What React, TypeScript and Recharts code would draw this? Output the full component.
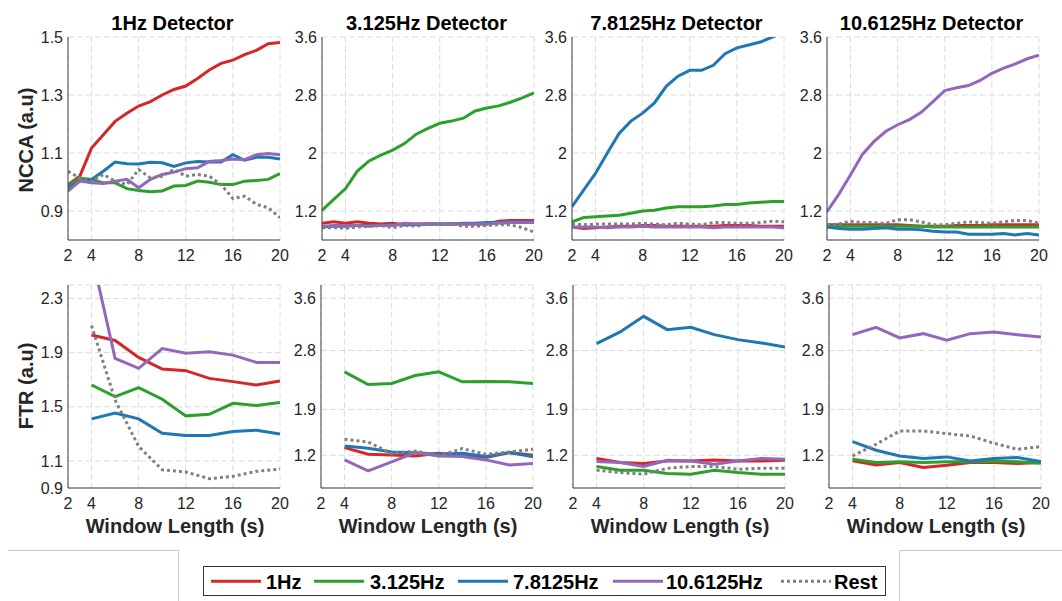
import React from 'react';
import { LineChart, Line, XAxis, YAxis, CartesianGrid } from 'recharts';

// ---------- data ----------
const xTop = [2, 3, 4, 5, 6, 7, 8, 9, 10, 11, 12, 13, 14, 15, 16, 17, 18, 19, 20];
const xBottom = [4, 6, 8, 10, 12, 14, 16, 18, 20];
const xTicks = [2, 4, 8, 12, 16, 20];

const detectorTitles = ['1Hz Detector', '3.125Hz Detector', '7.8125Hz Detector', '10.6125Hz Detector'];
const seriesNames = ['1Hz', '3.125Hz', '7.8125Hz', '10.6125Hz', 'Rest'];

// NCCA (top row), x = 2..20
const n1_1Hz = [0.99, 1.02, 1.117, 1.163, 1.209, 1.237, 1.262, 1.277, 1.3, 1.319, 1.331, 1.357, 1.386, 1.409, 1.42, 1.439, 1.454, 1.477, 1.481];
const n1_3Hz = [0.986, 1.014, 1.009, 0.997, 0.997, 0.977, 0.971, 0.966, 0.969, 0.986, 0.988, 1.003, 0.999, 0.991, 0.991, 1.003, 1.005, 1.009, 1.029];
const n1_7Hz = [0.98, 1.003, 1.009, 1.037, 1.069, 1.063, 1.062, 1.068, 1.066, 1.054, 1.066, 1.071, 1.069, 1.069, 1.094, 1.075, 1.085, 1.085, 1.079];
const n1_10Hz = [0.969, 1.003, 0.997, 0.995, 1.003, 1.009, 0.98, 1.009, 1.026, 1.034, 1.046, 1.049, 1.071, 1.074, 1.079, 1.077, 1.094, 1.098, 1.094];
const n1_rest = [1.037, 1.014, 1.003, 1.026, 1.003, 0.991, 1.043, 1.014, 1.02, 1.043, 1.02, 1.026, 1.02, 0.991, 0.943, 0.951, 0.923, 0.911, 0.877];

const n2_1Hz = [1.03, 1.05, 1.03, 1.05, 1.03, 1.02, 1.03, 1.01, 1.02, 1.02, 1.02, 1.02, 1.02, 1.02, 1.02, 1.06, 1.07, 1.07, 1.07];
const n2_3Hz = [1.21, 1.36, 1.51, 1.75, 1.89, 1.97, 2.04, 2.13, 2.26, 2.34, 2.41, 2.44, 2.48, 2.58, 2.62, 2.65, 2.7, 2.76, 2.83];
const n2_7Hz = [0.98, 0.99, 0.99, 1.0, 1.0, 1.0, 1.01, 1.01, 1.01, 1.02, 1.02, 1.02, 1.03, 1.03, 1.04, 1.04, 1.05, 1.05, 1.05];
const n2_10Hz = [0.99, 1.0, 1.0, 1.0, 0.99, 1.0, 1.0, 1.03, 1.02, 1.02, 1.02, 1.02, 1.02, 1.02, 1.02, 1.03, 1.04, 1.04, 1.04];
const n2_rest = [0.97, 0.97, 0.96, 0.98, 0.99, 1.0, 0.97, 1.0, 0.99, 1.02, 1.01, 1.02, 0.99, 0.99, 1.0, 1.01, 1.01, 0.97, 0.91];

const n3_1Hz = [0.98, 0.96, 0.97, 0.98, 0.99, 0.99, 1.0, 1.0, 0.99, 0.99, 0.99, 0.99, 0.99, 1.0, 1.0, 1.0, 0.99, 0.99, 0.99];
const n3_3Hz = [1.05, 1.11, 1.12, 1.13, 1.14, 1.17, 1.2, 1.21, 1.24, 1.26, 1.26, 1.26, 1.27, 1.29, 1.29, 1.31, 1.32, 1.33, 1.33];
const n3_7Hz = [1.26, 1.49, 1.72, 2.0, 2.27, 2.44, 2.55, 2.69, 2.92, 3.06, 3.14, 3.14, 3.21, 3.37, 3.45, 3.49, 3.53, 3.6, 3.66];
const n3_10Hz = [0.98, 0.98, 0.98, 0.97, 0.98, 0.98, 0.99, 0.98, 0.98, 0.98, 0.98, 0.98, 0.97, 0.98, 0.98, 0.98, 0.98, 0.98, 0.97];
const n3_rest = [1.02, 1.01, 1.02, 1.02, 1.02, 1.02, 1.03, 1.02, 1.01, 1.03, 1.02, 1.01, 1.04, 1.04, 1.03, 1.03, 1.04, 1.06, 1.05];

const n4_1Hz = [1.01, 1.01, 1.01, 1.01, 1.01, 1.01, 1.01, 1.0, 0.99, 0.99, 0.99, 1.0, 1.0, 1.0, 1.01, 1.01, 1.01, 1.01, 1.01];
const n4_3Hz = [0.99, 0.99, 0.99, 0.99, 0.99, 0.99, 0.99, 0.99, 0.99, 0.98, 0.98, 0.98, 0.98, 0.98, 0.98, 0.98, 0.98, 0.98, 0.98];
const n4_7Hz = [0.98, 0.96, 0.95, 0.95, 0.96, 0.97, 0.95, 0.95, 0.94, 0.92, 0.91, 0.91, 0.88, 0.88, 0.88, 0.89, 0.87, 0.89, 0.87];
const n4_10Hz = [1.19, 1.43, 1.7, 1.98, 2.16, 2.3, 2.39, 2.46, 2.56, 2.71, 2.86, 2.9, 2.93, 3.0, 3.1, 3.17, 3.23, 3.3, 3.35];
const n4_rest = [1.01, 1.02, 1.06, 1.04, 1.04, 1.03, 1.08, 1.08, 1.05, 1.01, 1.01, 1.03, 1.05, 1.04, 1.03, 1.05, 1.07, 1.07, 1.03];

// FTR (bottom row), x = 4..20 step 2
const f1_1Hz = [2.03, 1.99, 1.865, 1.779, 1.767, 1.71, 1.686, 1.661, 1.691];
const f1_3Hz = [1.661, 1.575, 1.642, 1.556, 1.433, 1.445, 1.526, 1.509, 1.531];
const f1_7Hz = [1.411, 1.453, 1.411, 1.305, 1.288, 1.288, 1.317, 1.327, 1.298];
const f1_10Hz = [2.63, 1.858, 1.784, 1.93, 1.895, 1.907, 1.882, 1.828, 1.828];
const f1_rest = [2.1, 1.55, 1.207, 1.035, 1.018, 0.969, 0.986, 1.023, 1.04];

const f2_1Hz = [1.317, 1.215, 1.205, 1.19, 1.23, 1.2, 1.165, 1.24, 1.2];
const f2_3Hz = [2.474, 2.28, 2.296, 2.418, 2.474, 2.321, 2.327, 2.321, 2.296];
const f2_7Hz = [1.342, 1.307, 1.251, 1.24, 1.215, 1.23, 1.18, 1.24, 1.175];
const f2_10Hz = [1.129, 0.962, 1.099, 1.24, 1.19, 1.18, 1.129, 1.053, 1.073];
const f2_rest = [1.444, 1.403, 1.226, 1.266, 1.19, 1.302, 1.215, 1.251, 1.292];

const f3_1Hz = [1.149, 1.089, 1.073, 1.114, 1.114, 1.129, 1.114, 1.114, 1.124];
const f3_3Hz = [1.028, 0.972, 0.972, 0.921, 0.911, 0.972, 0.936, 0.911, 0.911];
const f3_7Hz = [2.905, 3.083, 3.321, 3.118, 3.154, 3.042, 2.966, 2.915, 2.854];
const f3_10Hz = [1.104, 1.089, 1.028, 1.124, 1.114, 1.063, 1.114, 1.149, 1.139];
const f3_rest = [0.972, 0.936, 0.911, 1.002, 1.028, 1.028, 0.987, 1.002, 1.002];

const f4_1Hz = [1.114, 1.053, 1.089, 1.013, 1.048, 1.089, 1.089, 1.073, 1.089];
const f4_3Hz = [1.139, 1.089, 1.099, 1.089, 1.099, 1.099, 1.109, 1.099, 1.078];
const f4_7Hz = [1.408, 1.276, 1.19, 1.149, 1.175, 1.114, 1.149, 1.165, 1.104];
const f4_10Hz = [3.042, 3.154, 2.991, 3.057, 2.956, 3.057, 3.083, 3.042, 3.006];
const f4_rest = [1.19, 1.368, 1.571, 1.571, 1.53, 1.494, 1.383, 1.292, 1.332];

const yTicksNcca1 = [0.9, 1.1, 1.3, 1.5];
const yTicksNcca = [1.2, 2, 2.8, 3.6];
const yTicksFtr1 = [0.9, 1.1, 1.5, 1.9, 2.3];
const yTicksFtr = [1.2, 1.9, 2.8, 3.6];

// ---------- styles ----------
const FONT = '"Liberation Sans", Arial, Helvetica, sans-serif';
const COLORS = ['#d62728', '#2ca02c', '#1f77b4', '#9467bd', '#808080'];
const DASH = [undefined, undefined, undefined, undefined, '3 3'];
const KEYS = ['s0', 's1', 's2', 's3', 's4'];

const build = (xs: number[], arrs: number[][]) =>
  xs.map((x, i) => {
    const row: Record<string, number> = { x };
    arrs.forEach((a, k) => (row[KEYS[k]] = a[i]));
    return row;
  });

const PLOT_W = 212;
const PLOT_H = 203;
const Y_W = 50;
const M_TOP = 10;
const M_RIGHT = 10;
const X_H = 33;

type Panel = {
  data: Record<string, number>[];
  domain: [number, number];
  ticks: number[];
  left: number;
  top: number;
};

const panels: Panel[] = [
  { data: build(xTop, [n1_1Hz, n1_3Hz, n1_7Hz, n1_10Hz, n1_rest]), domain: [0.8, 1.5], ticks: yTicksNcca1, left: 68, top: 37 },
  { data: build(xTop, [n2_1Hz, n2_3Hz, n2_7Hz, n2_10Hz, n2_rest]), domain: [0.8, 3.6], ticks: yTicksNcca, left: 322, top: 37 },
  { data: build(xTop, [n3_1Hz, n3_3Hz, n3_7Hz, n3_10Hz, n3_rest]), domain: [0.8, 3.6], ticks: yTicksNcca, left: 572, top: 37 },
  { data: build(xTop, [n4_1Hz, n4_3Hz, n4_7Hz, n4_10Hz, n4_rest]), domain: [0.8, 3.6], ticks: yTicksNcca, left: 827, top: 37 },
  { data: build(xBottom, [f1_1Hz, f1_3Hz, f1_7Hz, f1_10Hz, f1_rest]), domain: [0.9, 2.4], ticks: yTicksFtr1, left: 68, top: 285 },
  { data: build(xBottom, [f2_1Hz, f2_3Hz, f2_7Hz, f2_10Hz, f2_rest]), domain: [0.7, 3.8], ticks: yTicksFtr, left: 321, top: 285 },
  { data: build(xBottom, [f3_1Hz, f3_3Hz, f3_7Hz, f3_10Hz, f3_rest]), domain: [0.7, 3.8], ticks: yTicksFtr, left: 573, top: 285 },
  { data: build(xBottom, [f4_1Hz, f4_3Hz, f4_7Hz, f4_10Hz, f4_rest]), domain: [0.7, 3.8], ticks: yTicksFtr, left: 829, top: 285 },
];

const tickStyle = { fill: '#262626', fontSize: 16, fontFamily: FONT };

function PanelChart({ p }: { p: Panel }) {
  return (
    <div style={{ position: 'absolute', left: p.left - Y_W, top: p.top - M_TOP }}>
      <LineChart
        width={Y_W + PLOT_W + M_RIGHT}
        height={M_TOP + PLOT_H + X_H}
        data={p.data}
        margin={{ top: M_TOP, right: M_RIGHT, left: 0, bottom: 0 }}
      >
        <CartesianGrid stroke="#dcdcdc" strokeDasharray="6 3" />
        <XAxis
          dataKey="x"
          type="number"
          domain={[2, 20]}
          ticks={xTicks}
          interval={0}
          allowDataOverflow
          height={X_H}
          tick={tickStyle}
          tickLine={false}
          tickSize={3}
          tickMargin={7}
          axisLine={{ stroke: '#404040', strokeWidth: 1 }}
        />
        <YAxis
          type="number"
          domain={p.domain}
          ticks={p.ticks}
          interval={0}
          allowDataOverflow
          width={Y_W}
          tick={tickStyle}
          tickLine={false}
          tickSize={3}
          tickMargin={2}
          axisLine={{ stroke: '#404040', strokeWidth: 1 }}
        />
        {KEYS.map((k, i) => (
          <Line
            key={k}
            dataKey={k}
            type="linear"
            stroke={COLORS[i]}
            strokeWidth={3}
            strokeDasharray={DASH[i]}
            dot={false}
            activeDot={false}
            isAnimationActive={false}
          />
        ))}
      </LineChart>
    </div>
  );
}

export default function App() {
  const topPanels = panels.slice(0, 4);
  const bottomPanels = panels.slice(4);
  const legendLines = [211, 314, 458, 613, 781];
  const legendTexts = [266, 370, 513, 666, 834];
  return (
    <div style={{ position: 'absolute', left: 0, top: 0, width: 1062, height: 601, background: '#fff', overflow: 'hidden' }}>
      {panels.map((p, i) => (
        <PanelChart key={i} p={p} />
      ))}
      <svg width={1062} height={601} style={{ position: 'absolute', left: 0, top: 0, pointerEvents: 'none' }}>
        {topPanels.map((p, i) => (
          <text
            key={'t' + i}
            x={p.left + PLOT_W / 2 - 1.5}
            y={29.5}
            textAnchor="middle"
            fontFamily={FONT}
            fontSize={20}
            fontWeight="bold"
            fill="#000"
          >
            {detectorTitles[i]}
          </text>
        ))}
        {bottomPanels.map((p, i) => (
          <text
            key={'w' + i}
            x={p.left + PLOT_W / 2 + 1}
            y={532.5}
            textAnchor="middle"
            fontFamily={FONT}
            fontSize={20}
            fontWeight="bold"
            fill="#262626"
          >
            Window Length (s)
          </text>
        ))}
        <text
          transform="translate(32.5,140) rotate(-90)"
          textAnchor="middle"
          fontFamily={FONT}
          fontSize={20}
          fontWeight="bold"
          fill="#262626"
        >
          NCCA (a.u)
        </text>
        <text
          transform="translate(32.5,386) rotate(-90)"
          textAnchor="middle"
          fontFamily={FONT}
          fontSize={20}
          fontWeight="bold"
          fill="#262626"
        >
          FTR (a.u)
        </text>
        {/* frame lines */}
        <polyline points="8,550.5 178.5,550.5 178.5,601" fill="none" stroke="#c8c8c8" strokeWidth={1} />
        <polyline points="1062,550.5 899.5,550.5 899.5,601" fill="none" stroke="#c8c8c8" strokeWidth={1} />
        {/* legend */}
        <rect x={203.5} y={566.5} width={682} height={29} fill="#fff" stroke="#333" strokeWidth={1} />
        {seriesNames.map((n, i) => (
          <g key={'l' + i}>
            <line
              x1={legendLines[i]}
              x2={legendLines[i] + 50}
              y1={581.3}
              y2={581.3}
              stroke={COLORS[i]}
              strokeWidth={3}
              strokeDasharray={DASH[i]}
            />
            <text x={legendTexts[i]} y={588.5} fontFamily={FONT} fontSize={20} fontWeight="bold" fill="#000">
              {n}
            </text>
          </g>
        ))}
      </svg>
    </div>
  );
}
